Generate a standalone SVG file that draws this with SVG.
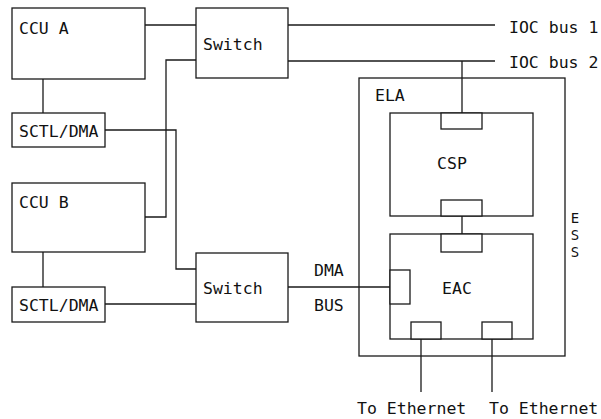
<svg xmlns="http://www.w3.org/2000/svg" width="601" height="419" viewBox="0 0 601 419">
<style>
rect,line,polyline{fill:none;stroke:#1a1a1a;stroke-width:1.3}
rect.p{fill:#fff}
text{font-family:"DejaVu Sans Mono","Liberation Mono",monospace;font-size:16.5px;fill:#111}
.m{text-anchor:middle}
.v{font-size:14px}
</style>
<g id="connectors">
<line x1="145" y1="25" x2="196" y2="25"/>
<line x1="288" y1="25" x2="495" y2="25"/>
<line x1="288" y1="61" x2="495" y2="61"/>
<polyline points="196,60 166,60 166,217 145,217"/>
<line x1="43" y1="79" x2="43" y2="113"/>
<polyline points="105,130 176,130 176,269 196,269"/>
<line x1="43" y1="252" x2="43" y2="287"/>
<line x1="105" y1="304" x2="196" y2="304"/>
<line x1="288" y1="287" x2="390" y2="287"/>
<line x1="462" y1="61" x2="462" y2="113"/>
<line x1="462" y1="216" x2="462" y2="234"/>
<line x1="421" y1="339" x2="421" y2="392"/>
<line x1="492" y1="339" x2="492" y2="392"/>
</g>
<g id="ccuA"><rect x="12" y="8" width="133" height="71"/><text x="19" y="34">CCU A</text></g>
<g id="switchA"><rect x="196" y="8" width="92" height="70"/><text x="203" y="50">Switch</text></g>
<g id="sctlA"><rect x="12" y="113" width="93" height="34"/><text x="19" y="137">SCTL/DMA</text></g>
<g id="ccuB"><rect x="12" y="183" width="133" height="69"/><text x="19" y="208">CCU B</text></g>
<g id="sctlB"><rect x="12" y="287" width="93" height="35"/><text x="19" y="311">SCTL/DMA</text></g>
<g id="switchB"><rect x="196" y="253" width="92" height="69"/><text x="203" y="294">Switch</text></g>
<g id="labels">
<text x="509" y="33">IOC bus 1</text>
<text x="509" y="68">IOC bus 2</text>
<text x="314" y="276">DMA</text>
<text x="314" y="311">BUS</text>
<text x="357" y="414">To Ethernet</text>
<text x="489" y="414">To Ethernet</text>
</g>
<g id="ess">
<rect x="359" y="78" width="206" height="278"/>
<text x="375" y="101">ELA</text>
<text x="575" y="223" class="m v">E</text>
<text x="575" y="240" class="m v">S</text>
<text x="575" y="257" class="m v">S</text>
</g>
<g id="csp">
<rect x="390" y="113" width="143" height="103"/>
<rect class="p" x="441" y="113" width="41" height="16"/>
<rect class="p" x="441" y="200" width="41" height="16"/>
<text x="452" y="169" class="m">CSP</text>
</g>
<g id="eac">
<rect x="390" y="234" width="143" height="105"/>
<rect class="p" x="441" y="234" width="41" height="18"/>
<rect class="p" x="390" y="270" width="20" height="34"/>
<rect class="p" x="411" y="322" width="30" height="17"/>
<rect class="p" x="482" y="322" width="30" height="17"/>
<text x="457" y="294" class="m">EAC</text>
</g>
</svg>
